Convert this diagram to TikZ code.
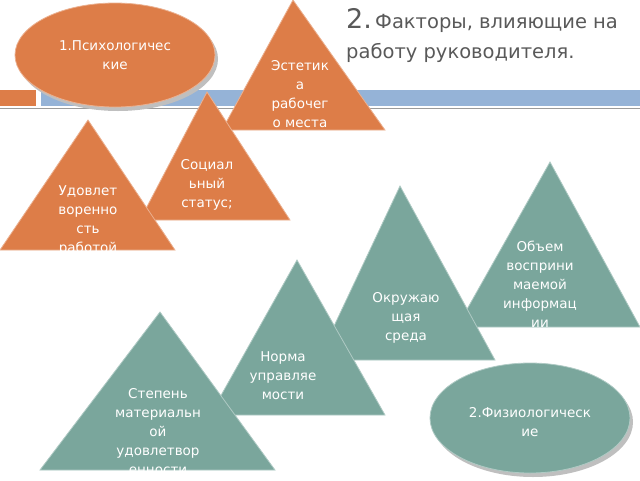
\documentclass[tikz,border=0pt]{standalone}
\usepackage{fontspec}
\setmainfont{DejaVu Sans}
\usetikzlibrary{positioning}
\definecolor{Warm}{RGB}{221, 125, 72}
\definecolor{Cool}{RGB}{122, 166, 156}
\definecolor{Band}{RGB}{149, 179, 215}
\definecolor{Title}{RGB}{89, 89, 89}

\tikzset{
  warmtri/.style={fill=Warm, draw=Warm!60!white, line width=0.8pt},
  cooltri/.style={fill=Cool, draw=Cool!60!white, line width=0.8pt},
  tritext/.style={text=white, align=center, font=\fontsize{13.5}{19}\selectfont, inner sep=0pt}
}

\begin{document}
\begin{tikzpicture}[x=1pt, y=-1pt]
    %%Background
    \useasboundingbox (0,0) rectangle (640,480);

    %% band
    \fill[Warm] (0,90) rectangle (36,106);
    \fill[Band] (41,90) rectangle (640,106);
    \draw[Title!60, line width=0.6pt] (0,108) -- (640,108);

    %% title
    \node[anchor=north west, text=Title, align=left, inner sep=0pt,
      font=\fontsize{19.5}{30}\selectfont] (title) at (346,8)
      {{\fontsize{27}{30}\selectfont 2.}\,Факторы, влияющие на\\работу руководителя.};

    %% psychological
    \fill[black!25] (118,59) ellipse (100 and 52);
    \draw[warmtri] (115,55) ellipse (100 and 52);
    \node[tritext] (psy) at (115,55) {1.Психологичес\\кие};

    \draw[warmtri] (293,0) -- (385,130) -- (222,130) -- cycle;
    \node[tritext] (aest) at (300,94) {Эстетик\\а\\рабочег\\о места};

    \draw[warmtri] (207,92) -- (290,220) -- (140,220) -- cycle;
    \node[tritext] (soc) at (207,185) {Социал\\ьный\\статус;};

    \draw[warmtri] (88,120) -- (175,250) -- (0,250) -- cycle;
    \node[tritext] (sat) at (88,220) {Удовлет\\воренно\\сть\\работой};

    %% physiological
    \draw[cooltri] (550,162) -- (640,327) -- (457,327) -- cycle;
    \node[tritext] (vol) at (540,284) {Объем\\восприни\\маемой\\информац\\ии};

    \draw[cooltri] (400,186) -- (495,360) -- (318,360) -- cycle;
    \node[tritext] (env) at (406,318) {Окружаю\\щая\\среда};

    \draw[cooltri] (297,260) -- (385,415) -- (210,415) -- cycle;
    \node[tritext] (norm) at (283,376) {Норма\\управляе\\мости};

    \draw[cooltri] (160,312) -- (275,470) -- (40,470) -- cycle;
    \node[tritext] (deg) at (158,432) {Степень\\материальн\\ой\\удовлетвор\\енности};

    \fill[black!25] (533,422) ellipse (100 and 55);
    \draw[cooltri] (530,418) ellipse (100 and 55);
    \node[tritext] (phys) at (530,422) {2.Физиологическ\\ие};
\end{tikzpicture}
\end{document}
